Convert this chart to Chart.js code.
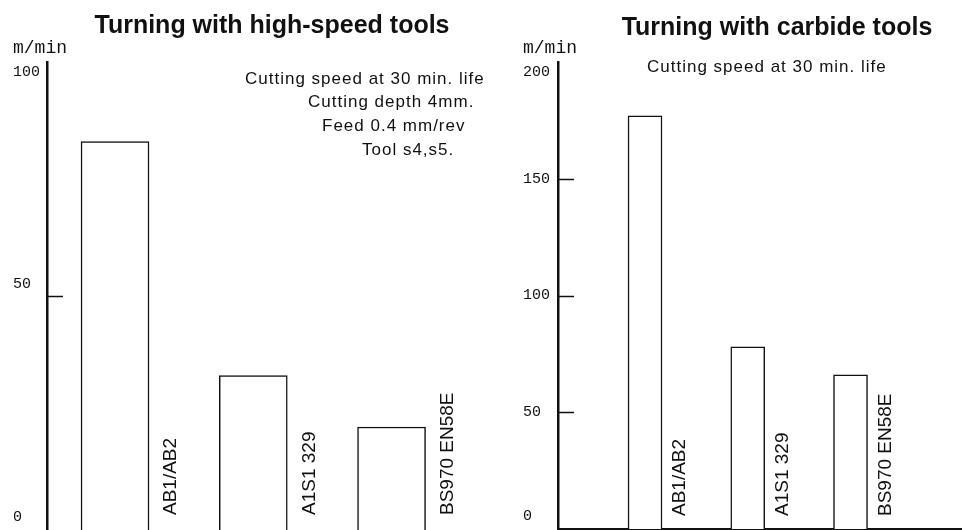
<!DOCTYPE html>
<html><head><meta charset="utf-8">
<script src="https://cdn.jsdelivr.net/npm/chart.js@4/dist/chart.umd.min.js"></script>
<style>
html,body{margin:0;padding:0;background:#fff;overflow:hidden;}
#wrap{position:relative;width:962px;height:530px;background:#fff;}
canvas{position:absolute;left:0;top:0;}
</style></head><body>
<div id="wrap"><canvas id="c1" width="962" height="530"></canvas><canvas id="c2" width="962" height="530"></canvas></div>
<script>
const categories = ['AB1/AB2', 'A1S1 329', 'BS970 EN58E'];
const hssSpeeds = [83, 33, 22];
const carbideSpeeds = [177, 78, 66];
const hssTicks = [0, 50, 100];
const carbideTicks = [0, 50, 100, 150, 200];
const hssTickMarks = [50];
const carbideTickMarks = [50, 100, 150];
const unitLabel = 'm/min';
const hssTitle = 'Turning with high-speed tools';
const carbideTitle = 'Turning with carbide tools';
const hssNotes = ['Cutting speed at 30 min. life', 'Cutting depth 4mm.', 'Feed 0.4 mm/rev', 'Tool s4,s5.'];
const carbideNotes = ['Cutting speed at 30 min. life'];

function decor(o) {
  return { id: 'decor', afterDraw(chart) {
    const ctx = chart.ctx, ys = chart.scales.y, area = chart.chartArea;
    ctx.save();
    ctx.fillStyle = '#111'; ctx.strokeStyle = '#111';
    ctx.font = 'bold 25px "Liberation Sans", Arial, sans-serif';
    ctx.textAlign = 'center'; ctx.textBaseline = 'alphabetic';
    ctx.fillText(o.title, o.titleX, o.titleY);
    ctx.font = '17px "Liberation Sans", Arial, sans-serif';
    ctx.textAlign = 'left';
    ctx.letterSpacing = '1px';
    o.notes.forEach((t, i) => ctx.fillText(t, o.noteX[i], o.noteY[i]));
    ctx.letterSpacing = '0px';
    ctx.font = '18px "Liberation Mono", monospace';
    ctx.fillText(unitLabel, o.labelX, 53);
    ctx.font = '15px "Liberation Mono", monospace';
    ctx.textBaseline = 'middle';
    o.ticks.forEach(t => {
      let y = ys.getPixelForValue(t) + o.labelShift;
      y = Math.max(area.top + 10, Math.min(area.bottom - 13, y));
      ctx.fillText(String(t), o.labelX, y);
    });
    ctx.lineWidth = 1.5; ctx.beginPath();
    o.tickMarks.forEach(t => {
      const y = Math.round(ys.getPixelForValue(t)) + 0.5;
      ctx.moveTo(area.left, y); ctx.lineTo(area.left + 16, y);
    });
    ctx.stroke();
    const meta = chart.getDatasetMeta(0);
    ctx.font = '19px "Liberation Sans", Arial, sans-serif';
    ctx.textAlign = 'left'; ctx.textBaseline = 'middle';
    meta.data.forEach((bar, i) => {
      ctx.save();
      ctx.translate(bar.x + bar.width / 2 + o.labelGap, o.catBaseY);
      ctx.rotate(-Math.PI / 2);
      ctx.fillText(categories[i], 0, 0);
      ctx.restore();
    });
    ctx.restore();
  }};
}

function makeChart(id, values, o) {
  return new Chart(document.getElementById(id), {
    type: 'bar',
    data: { datasets: [{
      data: values.map((v, i) => ({ x: i, y: v })),
      backgroundColor: '#fff', borderColor: '#111', borderWidth: 1.5,
      barThickness: o.barThickness, borderSkipped: 'start'
    }] },
    options: {
      responsive: false, animation: false, devicePixelRatio: 1,
      layout: { padding: o.padding },
      plugins: { legend: { display: false }, tooltip: { enabled: false }, title: { display: false } },
      scales: {
        x: { type: 'linear', min: o.xMin, max: o.xMax, display: true, offset: false,
             grid: { display: false, drawTicks: false, offset: false }, ticks: { display: false },
             border: { display: o.showBase, color: '#111', width: 2 } },
        y: { type: 'linear', min: 0, max: o.yMax, display: true,
             grid: { display: false, drawTicks: false }, ticks: { display: false },
             border: { display: true, color: '#111', width: 2.5 } }
      }
    },
    plugins: [decor(o)]
  });
}

makeChart('c1', hssSpeeds, {
  padding: { left: 47, right: 481, top: 62, bottom: 0 },
  xMin: -0.492, xMax: 2.647, yMax: 100, barThickness: 68, showBase: false,
  title: hssTitle, titleX: 272, titleY: 33,
  notes: hssNotes, noteX: [245, 308, 322, 362], noteY: [84, 107, 131, 155],
  labelX: 13, labelShift: -12, ticks: hssTicks, tickMarks: hssTickMarks, labelGap: 22, catBaseY: 515
});
makeChart('c2', carbideSpeeds, {
  padding: { left: 558, right: 0, top: 62, bottom: 1 },
  xMin: -0.847, xMax: 3.085, yMax: 200, barThickness: 34, showBase: true,
  title: carbideTitle, titleX: 777, titleY: 35,
  notes: carbideNotes, noteX: [647], noteY: [72],
  labelX: 523, labelShift: 0, ticks: carbideTicks, tickMarks: carbideTickMarks, labelGap: 18, catBaseY: 516
});
</script>
</body></html>
